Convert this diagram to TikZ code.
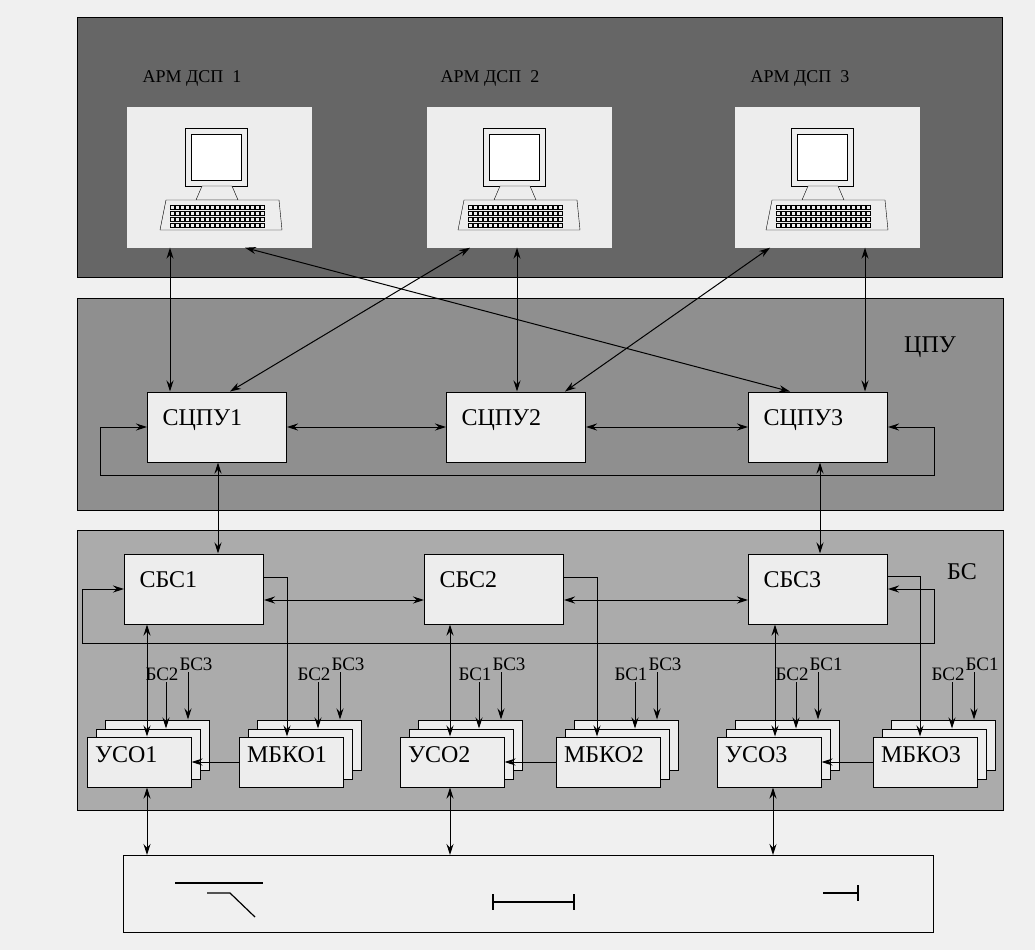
\documentclass[tikz,border=0pt]{standalone}
\usepackage{fontspec}
\setmainfont{Liberation Serif}
\usetikzlibrary{arrows, arrows.meta, positioning}

\definecolor{armband}{gray}{0.40}
\definecolor{cpuband}{gray}{0.56}
\definecolor{bsband}{gray}{0.67}
\definecolor{boxfill}{gray}{0.93}
\definecolor{paper}{gray}{0.94}

\tikzset{
  band/.style={draw, line width=1pt},
  box/.style={draw, fill=boxfill, line width=1pt, minimum width=139pt, minimum height=70pt,
    label={[anchor=north west, xshift=12pt, yshift=-15pt, font=\fontsize{24}{24}\selectfont]north west:#1}},
  obj/.style={draw, fill=boxfill, line width=1pt, minimum width=104pt, minimum height=50pt},
  objt/.style={obj, label={[anchor=north west, xshift=5pt, yshift=-7pt, font=\fontsize{24}{24}\selectfont]north west:#1}},
  screen/.style={fill=boxfill, minimum width=185pt, minimum height=141pt},
  lbl/.style={font=\fontsize{18}{18}\selectfont, inner sep=1pt},
  tag/.style={font=\fontsize{19}{19}\selectfont, inner sep=1pt, anchor=south},
  link/.style={line width=1pt},
  pics/terminal/.style={code={
    \draw[fill=boxfill] (-37,-50) rectangle (25,8);
    \draw[fill=white] (-31,-44) rectangle (19,2);
    \draw[fill=boxfill] (-20,8) -- (10,8) -- (16,22) -- (-26,22) -- cycle;
    \draw[fill=boxfill] (-56,22) -- (57,22) -- (60,52) -- (-62,52) -- cycle;
    \foreach \r in {27,33,39,45}
      \foreach \k in {-52,-47,...,38}
        \draw[line width=0.3pt] (\k,\r) rectangle ++(4,4);
  }}
}

\begin{document}
\begin{tikzpicture}[x=1pt, y=-1pt, >={Stealth[length=11pt, width=7pt]}]
	\useasboundingbox[fill=paper] (0,0) rectangle (1035,950);

	% bands
	\draw[band, fill=armband] (77,18) rectangle (1002,277);
	\draw[band, fill=cpuband] (77,298) rectangle (1003,510);
	\draw[band, fill=bsband]  (77,530) rectangle (1003,810);
	\node[lbl, font=\fontsize{24}{24}\selectfont] (cpu) at (930,347) {ЦПУ};
	\node[lbl, font=\fontsize{24}{24}\selectfont] (bs)  at (962,572) {БС};

	% operator workstations
	\node[screen] (a1) at (219,177) {};
	\node[screen] (a2) at (519,177) {};
	\node[screen] (a3) at (827,177) {};
	\node[lbl] (a1l) at (192,78) {АРМ ДСП \ 1};
	\node[lbl] (a2l) at (490,78) {АРМ ДСП \ 2};
	\node[lbl] (a3l) at (800,78) {АРМ ДСП \ 3};
	\pic at (222,178) {terminal};
	\pic at (520,178) {terminal};
	\pic at (828,178) {terminal};

	% central control units
	\node[box={СЦПУ1}] (s1) at (217,427) {};
	\node[box={СЦПУ2}] (s2) at (516,427) {};
	\node[box={СЦПУ3}] (s3) at (818,427) {};

	% safety units
	\node[box={СБС1}] (b1) at (194,589) {};
	\node[box={СБС2}] (b2) at (494,589) {};
	\node[box={СБС3}] (b3) at (818,589) {};

	% object controllers (stacks)
	\foreach \n/\x in {u1/139, m1/291, u2/452, m2/608, u3/769, m3/925} {
		\node[obj] (\n c) at (\x+18,745) {};
		\node[obj] (\n b) at (\x+9,754) {};
	}
	\node[objt={УСО1}]  (u1) at (139,762) {};
	\node[objt={МБКО1}] (m1) at (291,762) {};
	\node[objt={УСО2}]  (u2) at (452,762) {};
	\node[objt={МБКО2}] (m2) at (608,762) {};
	\node[objt={УСО3}]  (u3) at (769,762) {};
	\node[objt={МБКО3}] (m3) at (925,762) {};

	% field
	\node[draw, fill=paper, line width=1pt, minimum width=810pt, minimum height=77pt] (fld) at (528,894) {};
	\draw[line width=1.2pt] (175,883) -- (263,883);
	\draw[line width=1.2pt] (207,893) -- (230,893) -- (255,917);
	\draw[line width=1.2pt] (493,902) -- (574,902);
	\draw[line width=1.2pt] (493,894) -- (493,910);
	\draw[line width=1.2pt] (574,894) -- (574,910);
	\draw[line width=1.2pt] (823,893) -- (858,893);
	\draw[line width=1.2pt] (858,885) -- (858,901);

	% links АРМ -- СЦПУ
	\draw[link, <->] (a1.south -| 170,0) -- (s1.north -| 170,0);
	\draw[link, <->] (a2.south -| 517,0) -- (s2.north -| 517,0);
	\draw[link, <->] (a3.south -| 865,0) -- (s3.north -| 865,0);
	\draw[link, <->] (a1.south -| 245,0) -- (s3.north -| 790,0);
	\draw[link, <->] (a2.south -| 470,0) -- (s1.north -| 230,0);
	\draw[link, <->] (a3.south -| 770,0) -- (s2.north -| 565,0);

	% ЦПУ ring
	\coordinate (cl) at (100,475);
	\coordinate (cr) at (934,475);
	\draw[link, <->] (s1.west) -- (s1.west -| cl) -- (cl) -- (cr) -- (s3.east -| cr) -- (s3.east);
	\draw[link, <->] (s1) -- (s2);
	\draw[link, <->] (s2) -- (s3);

	% СЦПУ -- СБС
	\draw[link, <->] (s1.south -| 218,0) -- (b1.north -| 218,0);
	\draw[link, <->] (s3.south -| 820,0) -- (b3.north -| 820,0);

	% БС ring
	\coordinate (bl) at (82,643);
	\coordinate (br) at (934,643);
	\draw[link, <->] (b1.west) -- (b1.west -| bl) -- (bl) -- (br) -- (b3.east -| br) -- (b3.east);
	\draw[link, <->] ([yshift=-11pt]b1.east) -- ([yshift=-11pt]b2.west);
	\draw[link, <->] ([yshift=-11pt]b2.east) -- ([yshift=-11pt]b3.west);

	% СБС -- УСО, МБКО
	\draw[link, <->] (b1.south -| 147,0) -- (u1.north -| 147,0);
	\draw[link, <->] (b2.south -| 450,0) -- (u2.north -| 450,0);
	\draw[link, <->] (b3.south -| 775,0) -- (u3.north -| 775,0);
	\draw[link, ->] ([yshift=12pt]b1.east) -| (m1.north -| 287,0);
	\draw[link, ->] ([yshift=12pt]b2.east) -| (m2.north -| 597,0);
	\draw[link, ->] ([yshift=13pt]b3.east) -| (m3.north -| 920,0);

	% МБКО -- УСО
	\draw[link, ->] (m1.west) -- (u1.east);
	\draw[link, ->] (m2.west) -- (u2.east);
	\draw[link, ->] (m3.west) -- (u3.east);

	% УСО -- field
	\draw[link, <->] (u1.south -| 147,0) -- (fld.north -| 147,0);
	\draw[link, <->] (u2.south -| 450,0) -- (fld.north -| 450,0);
	\draw[link, <->] (u3.south -| 773,0) -- (fld.north -| 773,0);

	% inputs from the neighbouring stations
	\foreach \n/\x/\p/\q in {u1/139/БС2/БС3, m1/291/БС2/БС3, u2/452/БС1/БС3,
	                         m2/608/БС1/БС3, u3/769/БС2/БС1, m3/925/БС2/БС1} {
		\coordinate (\n p) at (\x+27,682);
		\coordinate (\n q) at (\x+49,672);
		\node[tag] (\n pl) at ([xshift=-4pt]\n p) {\p};
		\node[tag] (\n ql) at ([xshift=8pt]\n q) {\q};
		\draw[link, ->] (\n p) -- (\n p |- \n b.north);
		\draw[link, ->] (\n q) -- (\n q |- \n c.north);
	}
\end{tikzpicture}
\end{document}
